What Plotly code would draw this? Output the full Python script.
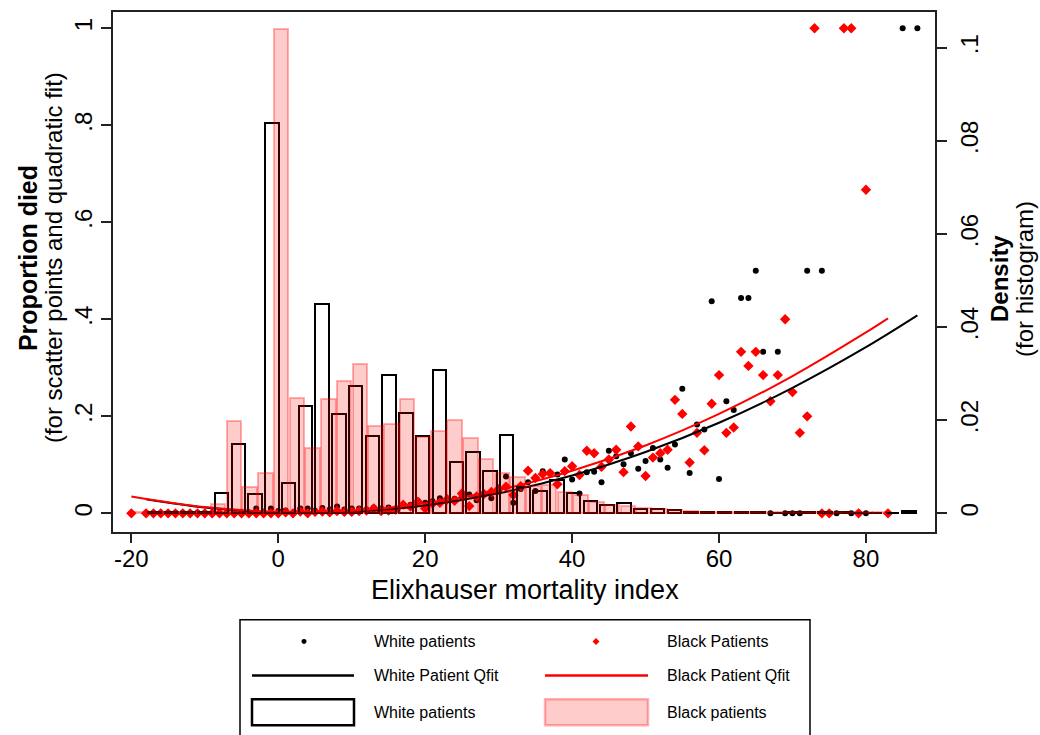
import plotly.graph_objects as go

# ---------------- data ----------------
white_x = list(range(-18, 67)) + [67, 68, 69, 70, 71, 72, 74, 75, 76, 78, 79, 80, 85, 87]
white_p = ([0.0] * 15 +
           [0.010, 0.003, 0.010, 0.005, 0.006, 0.0, 0.010, 0.010, 0.006, 0.011,   # -3..6
            0.008, 0.014, 0.008, 0.010, 0.010, 0.008, 0.012, 0.010, 0.012, 0.010,  # 7..16
            0.015, 0.018, 0.026, 0.022, 0.025, 0.031, 0.028, 0.030, 0.033, 0.039,  # 17..26
            0.027, 0.040, 0.031, 0.045, 0.076, 0.022, 0.050, 0.064, 0.046, 0.087,  # 27..36
            0.083, 0.080, 0.111, 0.070, 0.041, 0.085, 0.086, 0.064, 0.129, 0.118,  # 37..46
            0.101, 0.124, 0.092, 0.108, 0.135, 0.111, 0.094, 0.142, 0.257, 0.083,  # 47..56
            0.183, 0.173, 0.437, 0.071, 0.231, 0.213, 0.444, 0.444, 0.500, 0.333]  # 57..66
           + [0.0, 0.333, 0.0, 0.0, 0.0, 0.5, 0.5, 0.0, 0.0, 0.0, 0.0, 0.0, 1.0, 1.0])

black_x = [-20] + list(range(-18, 73)) + [73, 74, 75, 77, 78, 79, 80, 83]
black_p = ([0.0] + [0.0] * 19 +
           [0.002, 0.0, 0.004, 0.0, 0.003, 0.004, 0.002, 0.005, 0.003, 0.003,     # 1..10
            0.005, 0.006, 0.010, 0.005, 0.006, 0.008, 0.018, 0.014, 0.024, 0.010,  # 11..20
            0.020, 0.022, 0.029, 0.026, 0.041, 0.015, 0.035, 0.040, 0.044, 0.050,  # 21..30
            0.055, 0.038, 0.056, 0.088, 0.073, 0.081, 0.083, 0.060, 0.087, 0.097,  # 31..40
            0.079, 0.129, 0.124, 0.096, 0.111, 0.131, 0.085, 0.179, 0.138, 0.077,  # 41..50
            0.115, 0.124, 0.131, 0.234, 0.205, 0.105, 0.166, 0.130, 0.226, 0.285,  # 51..60
            0.166, 0.177, 0.333, 0.304, 0.333, 0.285, 0.231, 0.285, 0.400, 0.250,  # 61..70
            0.166, 0.200]                                                          # 71..72
           + [1.0, 0.0, 0.0, 1.0, 1.0, 0.0, 0.667, 0.0])

white_fit_x = [-18, -10, 0, 10, 20, 30, 40, 50, 60, 70, 80, 87]
white_fit_p = [0.029, 0.012, 0.0017, 0.0032, 0.0164, 0.0414, 0.0781, 0.1266, 0.1868, 0.2588, 0.3425, 0.408]
black_fit_x = [-20, -10, 0, 10, 20, 30, 40, 50, 60, 70, 80, 83]
black_fit_p = [0.035, 0.013, 0.003, 0.0055, 0.021, 0.048, 0.088, 0.140, 0.205, 0.283, 0.373, 0.402]

# histogram densities (white: bins from -18 to 87, 46 bins; black: -20 to 83, 48 bins)
white_hist_start, white_hist_end = -18, 87
white_density = [0.0002, 0.0002, 0.0003, 0.0004,
                 0.0043, 0.0148, 0.0041, 0.0838, 0.0066, 0.0230, 0.0450, 0.0213, 0.0273, 0.0166,
                 0.0298, 0.0215, 0.0166, 0.0309, 0.0110, 0.0132, 0.0091, 0.0169, 0.0057, 0.0048,
                 0.0071, 0.0044, 0.0027, 0.0018, 0.0023, 0.0009, 0.0009, 0.0008, 0.0004, 0.0003,
                 0.0002, 0.0002, 0.0002, 0.0001, 0.0002, 0.0002, 0.0002, 0.0002, 0.0001, 0.0, 0.0,
                 0.0005]
black_hist_start, black_hist_end = -20, 83
black_density = [0.0002, 0.0002, 0.0002, 0.0002, 0.0002,
                 0.0021, 0.0198, 0.0057, 0.0087, 0.1040, 0.0248, 0.0141, 0.0246, 0.0284, 0.0321,
                 0.0188, 0.0191, 0.0246, 0.0164, 0.0177, 0.0201, 0.0161, 0.0116, 0.0087, 0.0078,
                 0.0058, 0.0060, 0.0046, 0.0040, 0.0025, 0.0019, 0.0015, 0.0012, 0.0009, 0.0007,
                 0.0006,
                 0.0004, 0.0003, 0.0003, 0.0002, 0.0002, 0.0002, 0.0002, 0.0002, 0.0002, 0.0002,
                 0.0003, 0.0002]

x_ticks = [-20, 0, 20, 40, 60, 80]
x_ticktext = ["-20", "0", "20", "40", "60", "80"]
y_ticks = [0, 0.2, 0.4, 0.6, 0.8, 1]
y_ticktext = ["0", ".2", ".4", ".6", ".8", "1"]
y2_ticks = [0, 0.02, 0.04, 0.06, 0.08, 0.1]
y2_ticktext = ["0", ".02", ".04", ".06", ".08", ".1"]

# ---------------- figure ----------------
FONT = "Liberation Sans, Arial, sans-serif"
W, H = 1040, 735
ML, MR, MT, MB = 113, 105, 10, 203


def bins(start, end, n):
    bw = (end - start) / n
    return [start + (k + 0.5) * bw for k in range(n)], bw


fig = go.Figure()

fig.add_trace(go.Scatter(x=white_x, y=white_p, mode="markers", name="White patients",
                         marker=dict(symbol="circle", size=6, color="black"), showlegend=False))
fig.add_trace(go.Scatter(x=black_x, y=black_p, mode="markers", name="Black Patients",
                         marker=dict(symbol="diamond", size=8, color="#ff0000"), showlegend=False))
fig.add_trace(go.Scatter(x=white_fit_x, y=white_fit_p, mode="lines", name="White Patient Qfit",
                         line=dict(color="black", width=2, shape="spline"), showlegend=False))
fig.add_trace(go.Scatter(x=black_fit_x, y=black_fit_p, mode="lines", name="Black Patient Qfit",
                         line=dict(color="#ff0000", width=2, shape="spline"), showlegend=False))

wc, wbw = bins(white_hist_start, white_hist_end, len(white_density))
bc, bbw = bins(black_hist_start, black_hist_end, len(black_density))
fig.add_trace(go.Bar(x=wc, y=white_density, width=wbw * 0.8, yaxis="y2", name="White patients",
                     marker=dict(color="rgba(0,0,0,0)", line=dict(color="black", width=2)),
                     showlegend=False))
fig.add_trace(go.Bar(x=bc, y=black_density, width=bbw * 0.92, yaxis="y2", name="Black patients",
                     marker=dict(color="rgba(255,0,0,0.2)", line=dict(color="rgba(255,0,0,0.3)", width=2)),
                     showlegend=False))

axis_common = dict(showgrid=False, zeroline=False, showline=True, linecolor="#222",
                   linewidth=1.5, ticks="outside", tickcolor="#222", tickwidth=1.5,
                   tickfont=dict(size=24, color="black", family=FONT))

fig.update_layout(
    width=W, height=H,
    margin=dict(l=ML, r=MR, t=MT, b=MB),
    paper_bgcolor="white", plot_bgcolor="white",
    barmode="overlay", bargap=0,
    font=dict(family=FONT, color="black"),
    xaxis=dict(range=[-22.5, 89.4], tickvals=x_ticks, ticktext=x_ticktext, ticklen=9, mirror=True,
               ticklabelstandoff=-5, **axis_common),
    yaxis=dict(range=[-0.0384, 1.0335], tickvals=y_ticks, ticktext=y_ticktext, tickangle=-90,
               ticklen=10, mirror=True, **axis_common),
    yaxis2=dict(range=[-0.0040, 0.1077], tickvals=y2_ticks, ticktext=y2_ticktext, tickangle=-90,
                ticklen=10, overlaying="y", side="right", ticklabelstandoff=2, **axis_common),
)


def fx(px):
    return (px - ML) / (W - ML - MR)


def fy(py):
    return (H - MB - py) / (H - MT - MB)


def ann(text, px, py, size, angle=0, xanchor="center"):
    fig.add_annotation(text=text, x=fx(px), y=fy(py), xref="paper", yref="paper",
                       showarrow=False, textangle=angle, xanchor=xanchor, yanchor="middle",
                       font=dict(size=size, family=FONT, color="black"))


# axis titles
ann("Elixhauser mortality index", 525, 590, 27)
ann("<b>Proportion died</b>", 28, 257, 25, angle=-90)
ann("(for scatter points and quadratic fit)", 53, 257, 24, angle=-90)
ann("<b>Density</b>", 1000, 278, 24, angle=-90)
ann("(for histogram)", 1025, 278, 24, angle=-90)

# legend (drawn by hand to mimic the Stata key layout)
shapes = []
shapes.append(dict(type="rect", xref="paper", yref="paper", x0=fx(240), x1=fx(810), y0=fy(620), y1=fy(760),
                   line=dict(color="black", width=1.5), fillcolor="white", layer="above"))
shapes.append(dict(type="circle", xref="paper", yref="paper", x0=fx(301.5), x1=fx(306.5), y0=fy(639.5), y1=fy(644.5),
                   line=dict(color="black", width=0), fillcolor="black"))
dpath = "M {:.5f},{:.5f} L {:.5f},{:.5f} L {:.5f},{:.5f} L {:.5f},{:.5f} Z".format(
    fx(596), fy(638.5), fx(599.5), fy(642), fx(596), fy(645.5), fx(592.5), fy(642))
shapes.append(dict(type="path", xref="paper", yref="paper", path=dpath,
                   line=dict(color="#ff0000", width=0), fillcolor="#ff0000"))
shapes.append(dict(type="line", xref="paper", yref="paper", x0=fx(252), x1=fx(354), y0=fy(676), y1=fy(676),
                   line=dict(color="black", width=2.5)))
shapes.append(dict(type="line", xref="paper", yref="paper", x0=fx(545), x1=fx(648), y0=fy(676), y1=fy(676),
                   line=dict(color="#ff0000", width=2.5)))
shapes.append(dict(type="rect", xref="paper", yref="paper", x0=fx(252), x1=fx(354), y0=fy(700), y1=fy(726),
                   line=dict(color="black", width=2.5), fillcolor="rgba(0,0,0,0)"))
shapes.append(dict(type="rect", xref="paper", yref="paper", x0=fx(545), x1=fx(648), y0=fy(700), y1=fy(726),
                   line=dict(color="rgba(255,0,0,0.3)", width=2.5), fillcolor="rgba(255,0,0,0.2)"))
fig.update_layout(shapes=shapes)

ann("White patients", 372, 642, 16, xanchor="left")
ann("Black Patients", 665, 642, 16, xanchor="left")
ann("White Patient Qfit", 372, 676, 16, xanchor="left")
ann("Black Patient Qfit", 665, 676, 16, xanchor="left")
ann("White patients", 372, 713, 16, xanchor="left")
ann("Black patients", 665, 713, 16, xanchor="left")

fig.write_html("out.html")
